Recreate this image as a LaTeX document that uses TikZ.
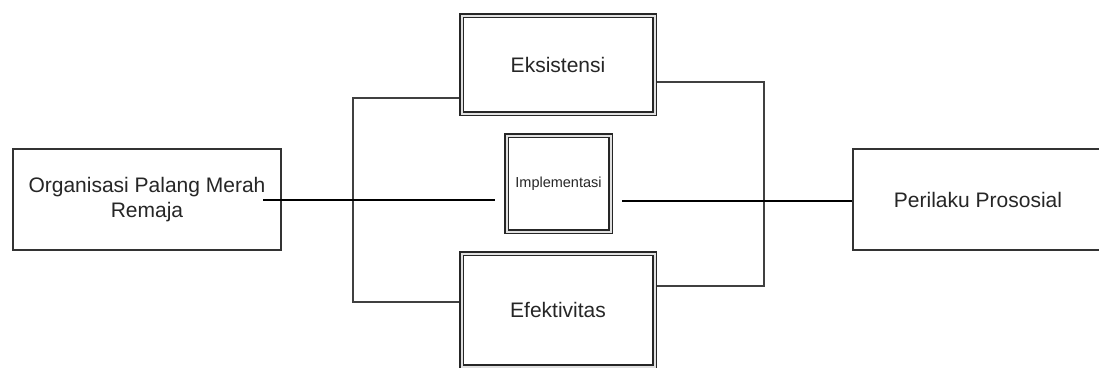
\documentclass[tikz,border=0pt]{standalone}
\usepackage{fontspec}
\setmainfont{Liberation Sans}
\usetikzlibrary{backgrounds}
\begin{document}
\begin{tikzpicture}[x=1pt,y=-1pt,
  plainbox/.style={draw=black!80, line width=1.3pt, fill=white, inner sep=0pt, font=\fontsize{21}{25}\selectfont, text=black!85, align=center},
  dblbox/.style={draw=black!85, line width=1.4pt, double=black!12, double distance=2pt, fill=white, inner sep=0pt, text=black!85, align=center},
  thin/.style={draw=black!75, line width=1.3pt},
  thickline/.style={draw=black, line width=2.8pt}]
\useasboundingbox (0,0) rectangle (1099,367);
% outer boxes
\node[plainbox, minimum width=268pt, minimum height=101pt] (org) at (147,199.5) {Organisasi Palang Merah\\Remaja};
\node[plainbox, minimum width=250pt, minimum height=101pt] (per) at (978,199.5) {Perilaku Prososial};
% double boxes
\node[dblbox, minimum width=193pt, minimum height=98pt, font=\fontsize{21}{25}\selectfont] (eks) at (558,64.5) {Eksistensi};
\node[dblbox, minimum width=193pt, minimum height=113pt, font=\fontsize{21}{25}\selectfont] (efe) at (558,310) {Efektivitas};
\node[dblbox, minimum width=104pt, minimum height=96pt, font=\fontsize{14.5}{17}\selectfont] (imp) at (558.5,183.5) {Implementasi};
% coordinates
\coordinate (lt) at (353,98);
\coordinate (lb) at (353,302);
\coordinate (rt) at (764,82);
\coordinate (rb) at (764,286);
\coordinate (a1) at (263,200);
\coordinate (a2) at (495,200);
\coordinate (b1) at (622,201);
\begin{scope}[on background layer]
\draw[thin] (eks.west |- lt) -- (lt) -- (lb) -- (lb -| efe.west);
\draw[thin] (eks.east |- rt) -- (rt) -- (rb) -- (rb -| efe.east);
\end{scope}
\draw[thickline] (a1) -- (a2);
\draw[thickline] (b1) -- (b1 -| per.west);
\end{tikzpicture}
\end{document}
